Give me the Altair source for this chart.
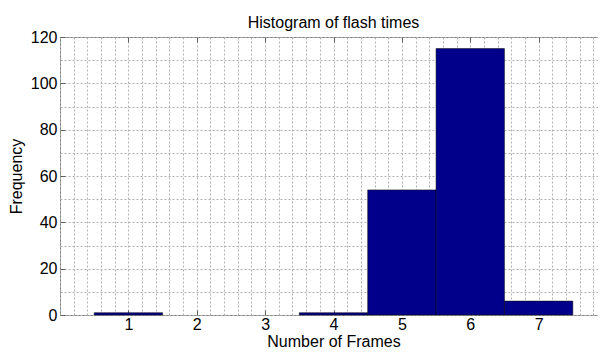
import altair as alt
import pandas as pd

frames = [1, 2, 3, 4, 5, 6, 7]
counts = [1, 0, 0, 1, 54, 115, 6]
x_tick_labels = [1, 2, 3, 4, 5, 6, 7]
y_tick_labels = [0, 20, 40, 60, 80, 100, 120]

x_grid = [round(i * 0.2, 1) for i in range(0, 41)]
y_grid = list(range(0, 121, 10))

df = pd.DataFrame({"frames": frames, "count": counts})

FONT = "Liberation Sans"
W, H = 547, 278
TICK = "#606060"

xscale = alt.Scale(domain=[0, 8], nice=False, zero=False)
yscale = alt.Scale(domain=[0, 120], nice=False)

base = alt.Chart(df).transform_filter(
    "datum.count > 0"
).transform_calculate(
    start="datum.frames - 0.5", end="datum.frames + 0.5"
)

bars = base.mark_bar(color="#00008B", stroke="#000000", strokeWidth=0.5).encode(
    x=alt.X("start:Q", scale=xscale,
            axis=alt.Axis(values=x_grid, title="Number of Frames",
                          labelExpr="(datum.value % 1 == 0 && datum.value >= 1 && datum.value <= 7) ? datum.value : ''",
                          grid=True, domain=False, ticks=False, labelPadding=1,
                          titleBaseline="alphabetic", titleY=31, titleX=W / 2,
                          labelFlush=False, labelOverlap=False)),
    x2="end:Q",
    y=alt.Y("count:Q", scale=yscale,
            axis=alt.Axis(values=y_grid, title="Frequency",
                          labelExpr="datum.value % 20 == 0 ? datum.value : ''",
                          grid=True, domain=False, ticks=False, labelPadding=3,
                          titleBaseline="alphabetic", titleX=-39, titleY=H / 2,
                          titleAngle=270, labelOverlap=False)),
    y2=alt.datum(0),
)

def x_tick_axis(offset):
    return alt.Axis(orient="top", values=x_tick_labels, labels=False, title=None,
                    grid=False, domain=False, ticks=True, tickSize=5,
                    tickColor=TICK, tickWidth=1, offset=offset)

ticks_top = base.mark_bar(opacity=0).encode(
    x=alt.X("start:Q", scale=xscale, axis=x_tick_axis(-5)),
    x2="end:Q",
    y=alt.Y("count:Q", scale=yscale, axis=None),
    y2=alt.datum(0),
)

ticks_bottom = base.mark_bar(opacity=0).encode(
    x=alt.X("start:Q", scale=xscale, axis=x_tick_axis(-H)),
    x2="end:Q",
    y=alt.Y("count:Q", scale=yscale, axis=None),
    y2=alt.datum(0),
)

ticks_left = base.mark_bar(opacity=0).encode(
    x=alt.X("start:Q", scale=xscale, axis=None),
    x2="end:Q",
    y=alt.Y("count:Q", scale=yscale,
            axis=alt.Axis(orient="right", values=y_tick_labels, labels=False, title=None,
                          grid=False, domain=False, ticks=True, tickSize=5,
                          tickColor=TICK, tickWidth=1, offset=-W)),
    y2=alt.datum(0),
)

chart = alt.layer(bars, ticks_top, ticks_bottom, ticks_left).resolve_axis(
    x="independent", y="independent"
).properties(
    width=W, height=H,
    title=alt.TitleParams("Histogram of flash times", fontSize=16, fontWeight="normal",
                          font=FONT, color="#000000", baseline="bottom", offset=2,
                          dy=20, frame="group", anchor="middle"),
    autosize=alt.AutoSizeParams(type="none"),
    padding={"left": 52, "top": 29, "right": -9, "bottom": 33},
).configure_axis(
    labelFont=FONT, labelFontSize=16, labelColor="#000000",
    titleFont=FONT, titleFontSize=16, titleColor="#000000", titleFontWeight="normal",
    gridColor="#b0b0b0", gridDash=[2, 2], gridWidth=1,
).configure_view(
    stroke="#808080", strokeWidth=1,
)

chart.save("out.html", embed_options={"renderer": "svg", "actions": False})
